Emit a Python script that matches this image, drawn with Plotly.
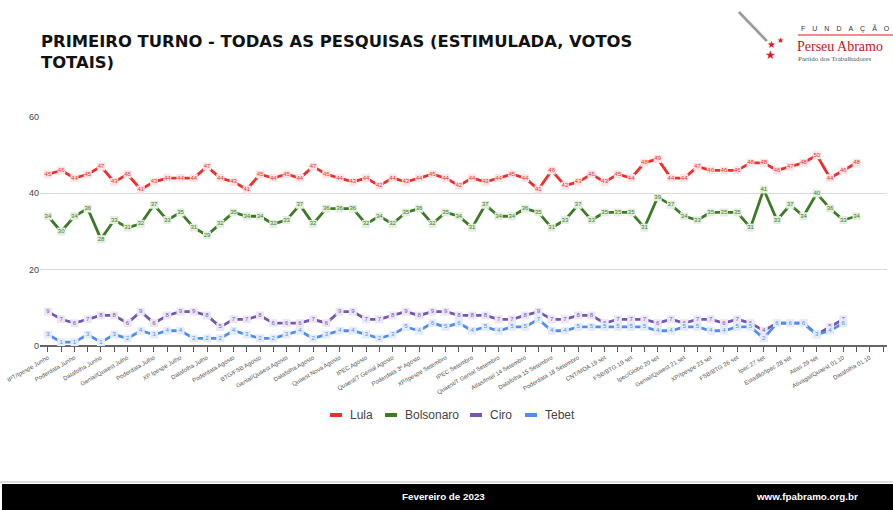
import plotly.graph_objects as go

# Pesquisas (categorias do eixo X) - 64 posições, rótulo visível a cada duas
pesquisas = [
    "IPT/Ipespe Junho", "Ipespe 2ª Junho", "Poderdata Junho", "Quaest Junho",
    "Datafolha Junho", "Ipec Junho", "Genial/Quaest Julho", "XP/Ipespe 1ª Julho",
    "Poderdata Julho", "Ipec Julho", "XP Ipespe Julho", "BTG/FSB Julho",
    "Datafolha Julho", "Quaest 2ª Julho", "Poderdata Agosto", "Ipespe Agosto",
    "BTG/FSB Agosto", "Ipec 1ª Agosto", "Genial/Quaest Agosto", "Poderdata 2ª Agosto",
    "Datafolha Agosto", "XP/Ipespe Agosto", "Quaest Nova Agosto", "BTG/FSB 2ª Agosto",
    "IPEC Agosto", "Datafolha 2ª Agosto", "Quaest/T Genial Agosto", "Ipespe 3ª Agosto",
    "Poderdata 3ª Agosto", "BTG/FSB Setembro", "XP/Ipespe Setembro", "Datafolha Setembro",
    "IPEC Setembro", "Poderdata Setembro", "Quaest/T Genial Setembro", "Ipespe 2ª Setembro",
    "Atlas/Intel 14 Setembro", "Ipec 14 Setembro", "Datafolha 15 Setembro", "BTG 16 Setembro",
    "Poderdata 18 Setembro", "Quaest 18 Setembro", "CNT/MDA 19 set", "Ipespe 19 set",
    "FSB/BTG 19 set", "Datafolha 20 set", "Ipec/Globo 20 set", "Poderdata 21 set",
    "Genial/Quaest 21 set", "Atlas 22 set", "XP/Ipespe 23 set", "Datafolha 23 set",
    "FSB/BTG 26 set", "Quaest 26 set", "Ipec 27 set", "Poderdata 28 set",
    "Estadão/Ipec 28 set", "Datafolha 29 set", "Atlas 29 set", "Ipespe 30 set",
    "Ativagal/Quaest 01.10", "Ipec 01.10", "Datafolha 01.10", "Ipec 02.10",
]

lula = [45, 46, 44, 45, 47, 43, 45, 41, 43, 44, 44, 44, 47, 44, 43, 41, 45, 44, 45, 44, 47,
        45, 44, 43, 44, 42, 44, 43, 44, 45, 44, 42, 44, 43, 44, 45, 44, 41, 46, 42, 43,
        45, 43, 45, 44, 48, 49, 44, 44, 47, 46, 46, 46, 48, 48, 46, 47, 48, 50, 44, 46, 48]
bolsonaro = [34, 30, 34, 36, 28, 33, 31, 32, 37, 33, 35, 31, 29, 32, 35, 34, 34, 32, 33, 37, 32,
             36, 36, 36, 32, 34, 32, 35, 36, 32, 35, 34, 31, 37, 34, 34, 36, 35, 31, 33, 37,
             33, 35, 35, 35, 31, 39, 37, 34, 33, 35, 35, 35, 31, 41, 33, 37, 34, 40, 36, 33, 34]
ciro = [9, 7, 6, 7, 8, 8, 6, 9, 6, 8, 9, 9, 8, 5, 7, 7, 8, 6, 6, 6, 7,
        6, 9, 9, 7, 7, 8, 9, 8, 9, 9, 8, 8, 8, 7, 7, 8, 9, 7, 7, 8,
        8, 6, 7, 7, 7, 6, 7, 6, 7, 7, 6, 7, 6, 4, 6, 6, 6, 3, 5, 7]
tebet = [3, 1, 1, 3, 1, 3, 2, 4, 3, 4, 4, 2, 2, 2, 4, 3, 2, 2, 3, 4, 2,
         3, 4, 4, 3, 2, 3, 5, 4, 6, 5, 6, 4, 5, 4, 5, 5, 7, 4, 4, 5,
         5, 5, 5, 5, 5, 4, 4, 5, 5, 4, 4, 5, 5, 2, 6, 6, 6, 3, 4, 6]

series = [
    ("Lula", lula, "#f22b2b", "#fde3e3"),
    ("Bolsonaro", bolsonaro, "#3d7a26", "#e3eedd"),
    ("Ciro", ciro, "#7457b0", "#ebe5f5"),
    ("Tebet", tebet, "#4f8ef0", "#e2ecfc"),
]

# conversão de pixels da imagem para coordenadas "paper"
PL, PR, PT, PB = 40, 887, 117, 346


def px(x):
    return (x - PL) / (PR - PL)


def py(y):
    return (PB - y) / (PB - PT)


def texto(fig, txt, x, y, size, color, family="Liberation Sans", xanchor="center"):
    fig.add_annotation(text=txt, xref="paper", yref="paper", x=px(x), y=py(y),
                       xanchor=xanchor, yanchor="middle", showarrow=False,
                       font=dict(size=size, color=color, family=family))


fig = go.Figure()

for nome, vals, cor, fundo in series:
    fig.add_trace(go.Scatter(
        x=pesquisas[:len(vals)], y=vals, mode="lines+markers+text",
        text=[str(v) for v in vals], textposition="middle center",
        textfont=dict(size=6, color=cor, family="Liberation Sans"),
        line=dict(color=cor, width=2.8),
        marker=dict(symbol="square", size=8, color=fundo, line=dict(width=0)),
        showlegend=False, hoverinfo="skip",
    ))

ticktext = [p if i % 2 == 0 else "" for i, p in enumerate(pesquisas)]

fig.update_layout(
    width=893, height=510,
    margin=dict(l=PL, r=893 - PR, t=PT, b=510 - PB),
    paper_bgcolor="white", plot_bgcolor="white",
    font=dict(family="Liberation Sans", color="#444"),
    showlegend=False,
    title=dict(
        text="<b>PRIMEIRO TURNO - TODAS AS PESQUISAS (ESTIMULADA, VOTOS<br>TOTAIS)</b>",
        x=41 / 893, xanchor="left", y=1 - 47 / 510, yanchor="top",
        font=dict(size=16.4, color="#111", family="DejaVu Sans"),
    ),
    xaxis=dict(
        type="category", categoryorder="array", categoryarray=pesquisas,
        range=[-0.6, 63.3], automargin=False,
        tickmode="array", tickvals=pesquisas, ticktext=ticktext,
        tickangle=-30, tickfont=dict(size=6, color="#555"),
        ticks="outside", ticklen=5, tickcolor="#555",
        showgrid=False, showline=False, zeroline=False,
    ),
    yaxis=dict(
        range=[0, 60], tickvals=[0, 20, 40, 60], automargin=False,
        tickfont=dict(size=9, color="#444"),
        showgrid=True, gridcolor="#d9d9d9", gridwidth=1,
        zeroline=True, zerolinecolor="#666", zerolinewidth=1.6,
        showline=False,
    ),
)

# legenda desenhada à mão (barra curta + nome)
legenda_x = [330, 385, 470, 525]
for (nome, vals, cor, fundo), lx in zip(series, legenda_x):
    fig.add_shape(type="line", xref="paper", yref="paper", x0=px(lx), x1=px(lx + 12),
                  y0=py(415), y1=py(415), line=dict(color=cor, width=4))
    texto(fig, nome, lx + 18, 415, 12, "#444", xanchor="left")

# rodapé
fig.add_shape(type="line", xref="paper", yref="paper", x0=px(0), x1=px(893),
              y0=py(482), y1=py(482), line=dict(color="#bbbbbb", width=1))
fig.add_shape(type="rect", xref="paper", yref="paper", x0=px(2), x1=px(895),
              y0=py(484), y1=py(512), fillcolor="black", line=dict(width=0), layer="above")
texto(fig, "<b>Fevereiro de 2023</b>", 443, 497, 9.8, "white")
texto(fig, "<b>www.fpabramo.org.br</b>", 807, 497, 9.8, "white")

# logotipo Fundação Perseu Abramo
fig.add_shape(type="line", xref="paper", yref="paper", x0=px(739), y0=py(12),
              x1=px(767), y1=py(41), line=dict(color="#999", width=3))
fig.add_shape(type="line", xref="paper", yref="paper", x0=px(741), y0=py(12),
              x1=px(768), y1=py(40), line=dict(color="#e6e6e6", width=1))
for sx, sy, ss in [(771, 44, 10), (780, 40, 8), (770, 55, 12)]:
    texto(fig, "★", sx, sy, ss, "#e0161d")
texto(fig, "\u2003".join("FUNDAÇÃO"), 799, 28, 7, "#333", xanchor="left")
fig.add_shape(type="line", xref="paper", yref="paper", x0=px(798), x1=px(893),
              y0=py(35), y1=py(35), line=dict(color="#e0161d", width=1))
texto(fig, "Perseu Abramo", 795, 46, 14, "#c4161c", "Liberation Serif", "left")
texto(fig, "Partido dos Trabalhadores", 796, 59, 7, "#555", "Liberation Serif", "left")

# sem margem da página, para a figura ocupar a janela inteira
fig.write_html("out.html", config={"displayModeBar": False},
               post_script="document.body.style.margin='0';")
